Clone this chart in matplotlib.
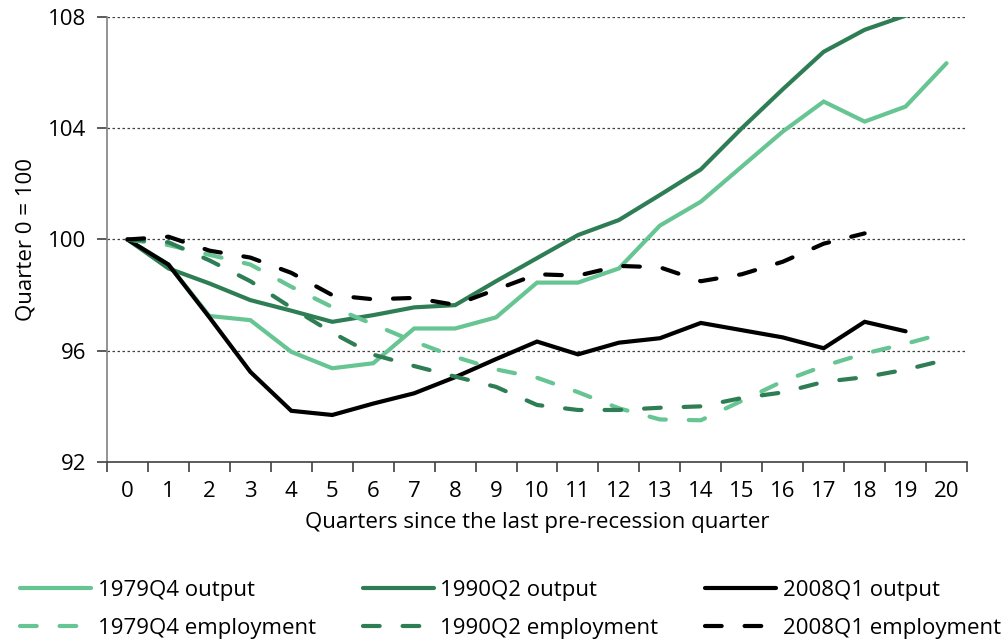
import numpy as np
import matplotlib.pyplot as plt

plt.rcParams['font.family'] = ['Open Sans', 'DejaVu Sans']

# --- data (index, quarter 0 = 100) ---
quarters = list(range(21))
out_1979 = [100, 99.1, 97.25, 97.1, 95.96, 95.37, 95.55, 96.8, 96.8, 97.2, 98.45,
            98.45, 98.96, 100.5, 101.36, 102.62, 103.88, 104.96, 104.24, 104.78, 106.34]
out_1990 = [100, 98.96, 98.42, 97.82, 97.44, 97.04, 97.28, 97.56, 97.64, 98.5, 99.33,
            100.16, 100.7, 101.6, 102.52, 104.0, 105.4, 106.75, 107.54, 108.05, 108.6]
out_2008 = [100, 99.1, 97.2, 95.24, 93.84, 93.69, 94.1, 94.47, 95.05, 95.7, 96.33,
            95.87, 96.29, 96.45, 97.0, 96.74, 96.48, 96.09, 97.04, 96.7]
emp_1979 = [100, 99.8, 99.45, 99.1, 98.3, 97.57, 96.95, 96.33, 95.78, 95.33, 95.03,
            94.51, 93.93, 93.53, 93.5, 94.2, 94.9, 95.45, 95.9, 96.25, 96.65]
emp_1990 = [100, 99.9, 99.25, 98.5, 97.55, 96.65, 95.86, 95.45, 95.07, 94.7, 94.05,
            93.87, 93.87, 93.95, 94.0, 94.3, 94.5, 94.88, 95.05, 95.32, 95.68]
emp_2008 = [100, 100.1, 99.6, 99.35, 98.8, 98.0, 97.85, 97.9, 97.65, 98.2, 98.75,
            98.7, 99.05, 99.0, 98.5, 98.75, 99.2, 99.85, 100.22]

LIGHT = '#66c592'
DARK = '#2e7d54'
BLACK = '#000000'

fig = plt.figure(figsize=(10.05, 6.42), dpi=100)
ax = fig.add_axes([0.1065, 0.2804, 0.8557, 0.6931])

lw = 3.0
dash = (4, 5.5)
FS = 16

def qx(vals):
    return quarters[:len(vals)]

l1, = ax.plot(qx(out_1979), out_1979, color=LIGHT, lw=lw, solid_capstyle='round', solid_joinstyle='miter')
l2, = ax.plot(qx(out_1990), out_1990, color=DARK, lw=lw, solid_capstyle='round', solid_joinstyle='miter')
l3, = ax.plot(qx(out_2008), out_2008, color=BLACK, lw=lw, solid_capstyle='round', solid_joinstyle='miter')
l4, = ax.plot(qx(emp_1979), emp_1979, color=LIGHT, lw=lw, dashes=dash, dash_capstyle='round')
l5, = ax.plot(qx(emp_1990), emp_1990, color=DARK, lw=lw, dashes=dash, dash_capstyle='round')
l6, = ax.plot(qx(emp_2008), emp_2008, color=BLACK, lw=lw, dashes=dash, dash_capstyle='round')

ax.set_xlim(-0.5, 20.5)
ax.set_ylim(92, 108)
ax.set_yticks([92, 96, 100, 104, 108])
ax.set_xticks(quarters)
ax.set_xticks(np.arange(-0.5, 21, 1), minor=True)
ax.tick_params(axis='x', which='major', length=0, pad=14, labelsize=FS)
ax.tick_params(axis='x', which='minor', length=7, width=1.2, color='#404040', direction='out')
ax.tick_params(axis='y', length=7, width=1.2, color='#404040', pad=8, labelsize=FS)

for y in [96, 100, 104, 108]:
    ax.axhline(y, color='#404040', lw=0.9, ls=(0, (2, 2)), zorder=0)

for s in ['top', 'right']:
    ax.spines[s].set_visible(False)
ax.spines['left'].set_color('#808080')
ax.spines['left'].set_linewidth(1.2)
ax.spines['bottom'].set_color('#404040')
ax.spines['bottom'].set_linewidth(1.2)

ax.set_xlabel('Quarters since the last pre-recession quarter', fontsize=FS, labelpad=7)
ax.set_ylabel('Quarter 0 = 100', fontsize=FS, labelpad=8)

fig.legend([l1, l4, l2, l5, l3, l6],
           ['1979Q4 output', '1979Q4 employment', '1990Q2 output', '1990Q2 employment',
            '2008Q1 output', '2008Q1 employment'],
           ncol=3, loc='lower left', bbox_to_anchor=(0.0, -0.026), frameon=False,
           fontsize=FS, handlelength=3.2, handletextpad=0.3, columnspacing=2.1,
           labelspacing=0.75)

fig.savefig('out.png', dpi=100)
